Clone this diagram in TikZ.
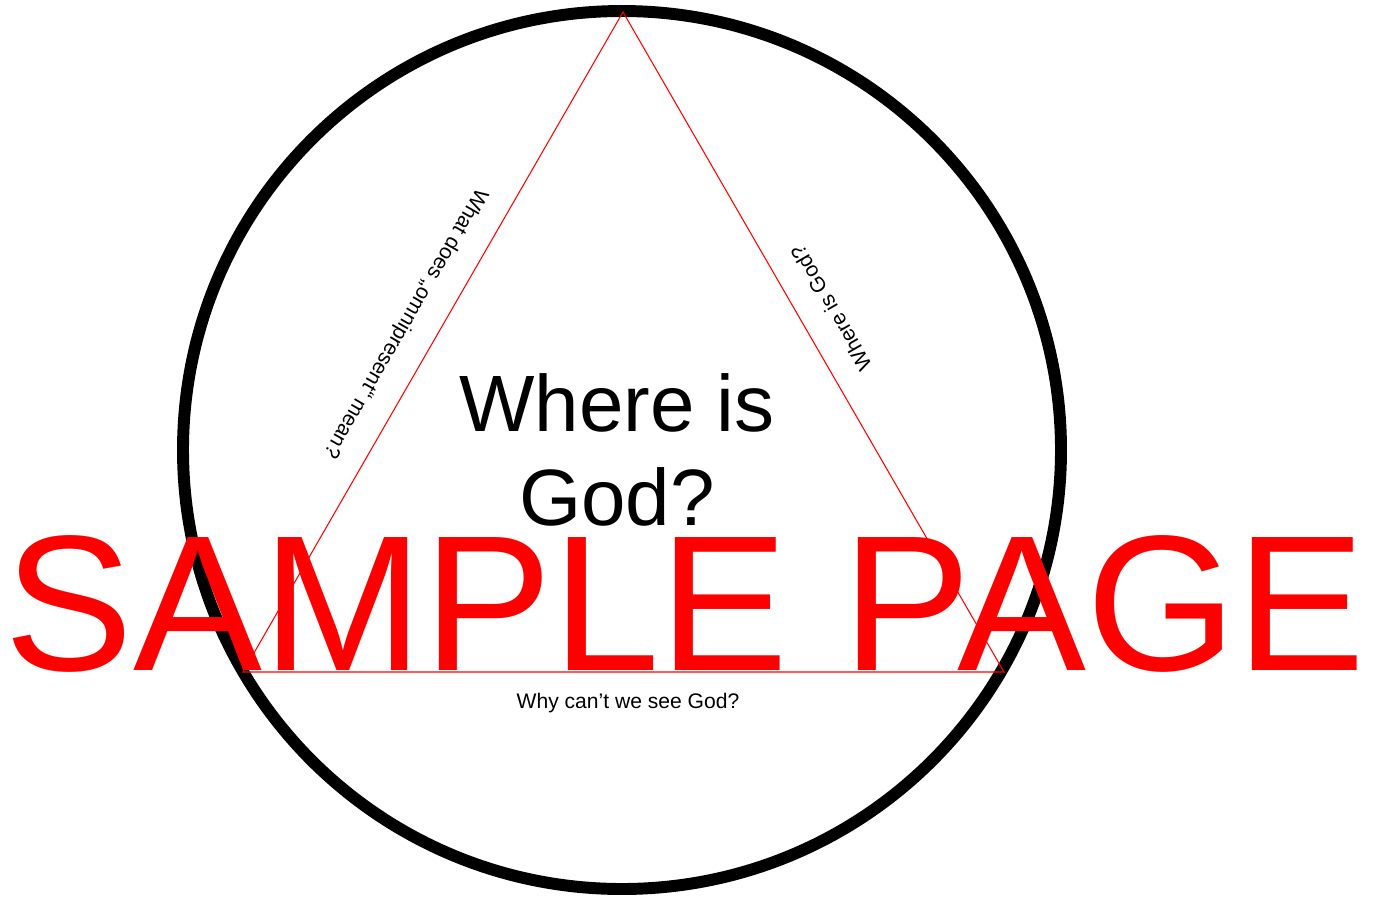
\documentclass[tikz,border=0pt]{standalone}
\usepackage{fontspec}
\setmainfont{Liberation Sans}
\usepackage{xcolor}
\usetikzlibrary{positioning}
\definecolor{samplered}{RGB}{255,0,0}

\begin{document}
\begin{tikzpicture}[x=0.02cm,y=-0.02cm,
  ring/.style={draw=black,line width=6.8pt},
  tri/.style={draw=samplered,line width=0.6pt,line join=miter},
  side/.style={inner sep=0pt,font=\fontsize{12}{14}\selectfont},
  title/.style={inner sep=0pt,align=center,font=\fontsize{45.5}{53}\selectfont},
  stamp/.style={inner sep=0pt,text=samplered,font=\fontsize{110}{120}\selectfont}]
  \useasboundingbox (0,0) rectangle (1373,897);
  \coordinate (ctr) at (622,450);
  \draw[ring] (ctr) circle (439);
  % triangle
  \coordinate (top) at (623,12);
  \coordinate (bl) at (243,672);
  \coordinate (br) at (1004,672);
  \draw[tri] (top) -- (br) -- (bl) -- cycle;
  % labels
  \node[title,anchor=base] (q) at (617,525) {Where is\\God?};
  \node[side,rotate=-120] (left) at (405,323) {What does „omnipresent“ mean?};
  \node[side,rotate=120] (right) at (831,308) {Where is God?};
  \node[side,anchor=base] (bottom) at (628,708) {Why can’t we see God?};
  \node[stamp,anchor=base] (sample) at (685,670) {SAMPLE PAGE};
\end{tikzpicture}
\end{document}
